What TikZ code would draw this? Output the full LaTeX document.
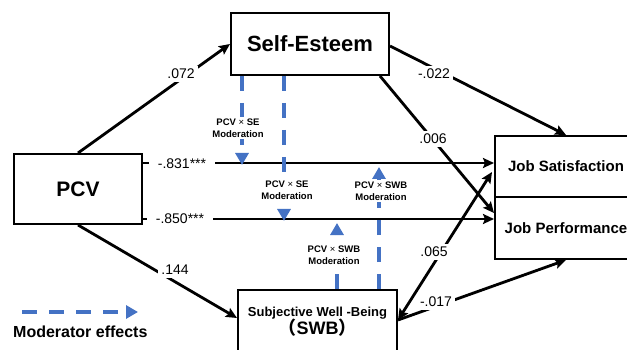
\documentclass[tikz,border=0pt]{standalone}
\usepackage{fontspec}
\setmainfont{Liberation Sans}
\newfontfamily\cjk{Noto Sans CJK JP}
\usetikzlibrary{arrows.meta,calc}
\definecolor{modblue}{RGB}{68,114,196}
\begin{document}
\begin{tikzpicture}[x=1pt,y=-1pt,
  box/.style={draw,line width=2pt,inner sep=0pt,anchor=north west,align=center},
  pathline/.style={line width=2.8pt,-{Stealth[length=11pt,width=10pt,inset=2pt]}},
  coef/.style={fill=white,inner sep=3pt,font=\fontsize{14}{16}\selectfont},
  modline/.style={draw=modblue,line width=3.5pt,dash pattern=on 15pt off 12pt,-{Triangle[length=12pt,width=13pt]}},
  modlabel/.style={fill=white,inner sep=1.5pt,align=center,font=\bfseries\fontsize{9.5}{11.5}\selectfont}
]
\path[use as bounding box,clip] (0,0) rectangle (627,350);
\fill[white] (0,0) rectangle (627,350);

% boxes
\node[box,minimum width=158pt,minimum height=62pt,font=\bfseries\fontsize{22}{24}\selectfont] (se) at (230,12) {Self-Esteem};
\node[box,minimum width=128pt,minimum height=70pt,font=\bfseries\fontsize{21}{24}\selectfont] (pcv) at (13,153) {PCV};
\node[box,minimum width=142pt,minimum height=61pt,font=\bfseries\fontsize{15}{17}\selectfont] (js) at (494,135) {Job Satisfaction};
\node[box,minimum width=142pt,minimum height=62pt,font=\bfseries\fontsize{15}{17}\selectfont] (jp) at (494,196) {\raisebox{-4pt}{Job Performance}};
\node[box,minimum width=159pt,minimum height=63pt] (swb) at (237,289)
  {{\bfseries\fontsize{13}{15}\selectfont Subjective Well -Being}\\[-1pt]{\bfseries\fontsize{18}{20}\selectfont{\cjk （}SWB{\cjk ）}}};

% black paths
\draw[pathline] (pcv.north) -- (se.west);
\draw[pathline] (pcv.south) -- ($(swb.north west)+(0,29)$);
\draw[pathline] ($(se.east)+(0,2)$) -- (js.north);
\draw[pathline] ($(se.south east)+(-10,0)$) -- ($(jp.north west)+(0,17)$);
\draw[pathline] ($(pcv.north east)+(0,10)$) -- ($(js.north west)+(0,28)$);
\draw[pathline] ($(pcv.north east)+(0,66)$) -- ($(jp.north west)+(0,23)$);
\draw[pathline,{Stealth[length=11pt,width=10pt,inset=2pt]}-{Stealth[length=11pt,width=10pt,inset=2pt]}] ($(swb.north east)+(0,31)$) -- ($(js.north west)+(-2,37)$);
\draw[pathline] ($(swb.north east)+(0,31)$) -- (jp.south);

% moderator lines
\draw[modline] ($(se.south west)+(12,0)$) -- ++(0,89);
\draw[modline] ($(se.south west)+(54,0)$) -- ++(0,145);
\draw[modline] ($(swb.north west)+(142,0)$) -- ++(0,-122);
\draw[modline] ($(swb.north west)+(100,0)$) -- ++(0,-66);

% coefficients
\node[coef] (c072) at (181,74) {.072};
\node[coef,inner xsep=9pt] (c831) at (182,164) {-.831***};
\node[coef,inner xsep=9pt] (c850) at (180,219) {-.850***};
\node[coef] (c144) at (175,270) {.144};
\node[coef] (c022) at (434,74) {-.022};
\node[coef] (c006) at (433,139) {.006};
\node[coef] (c065) at (434,252) {.065};
\node[coef] (c017) at (436,302) {-.017};

% moderation labels
\node[modlabel] (m1) at (238,128) {PCV {\mdseries ×} SE\\Moderation};
\node[modlabel] (m2) at (287,190) {PCV {\mdseries ×} SE\\Moderation};
\node[modlabel] (m3) at (381,191) {PCV {\mdseries ×} SWB\\Moderation};
\node[modlabel] (m4) at (334,255) {PCV {\mdseries ×} SWB\\Moderation};

% legend
\coordinate (l1) at (22,312);
\coordinate (l2) at (138,312);
\draw[modline] (l1) -- (l2);
\node[anchor=west,inner sep=0pt,font=\bfseries\fontsize{16}{18}\selectfont] (legtxt) at (13,332) {Moderator effects};
\end{tikzpicture}
\end{document}
